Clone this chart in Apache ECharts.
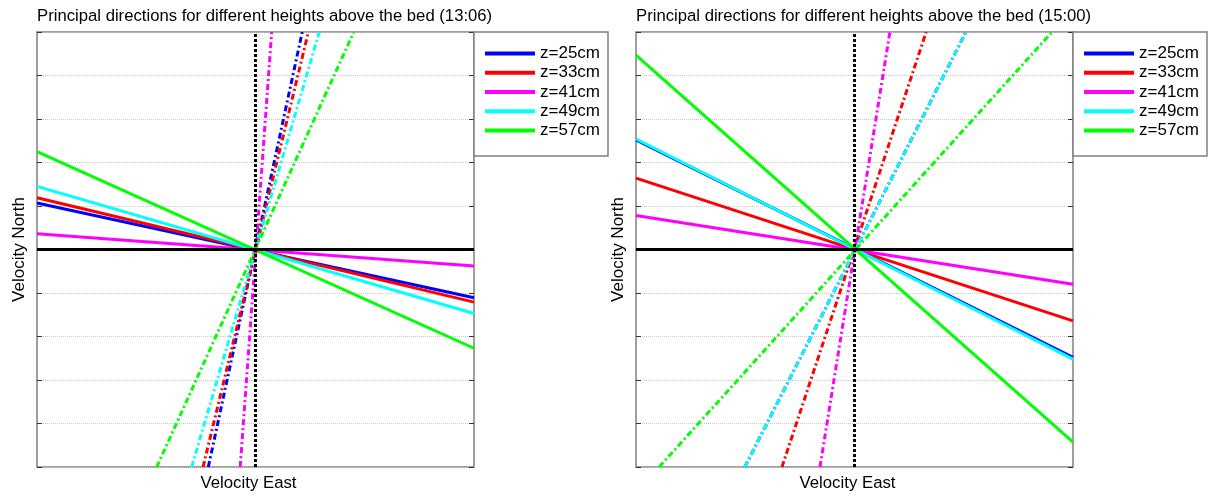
<!DOCTYPE html>
<html>
<head>
<meta charset="utf-8">
<script src="https://cdn.jsdelivr.net/npm/echarts@6/dist/echarts.min.js"></script>
<style>
  html, body { margin: 0; padding: 0; background: #fff; }
  #chart { width: 1208px; height: 497px; }
</style>
</head>
<body>
<div id="chart"></div>
<script>
// Heights above the bed and their line colours
const heights = ['z=25cm', 'z=33cm', 'z=41cm', 'z=49cm', 'z=57cm'];
const colors = ['#0000ff', '#ff0000', '#ff00ff', '#00ffff', '#00ff00'];

// Panel titles
const titles = [
  'Principal directions for different heights above the bed (13:06)',
  'Principal directions for different heights above the bed (15:00)'
];

// Axis extent (velocity units, both axes)
const axisMin = -5;
const axisMax = 5;
const yTickInterval = 1;

// 13:06 — major axis: north velocity at the west / east edges
const majorWest1306 = [1.07, 1.19, 0.36, 1.45, 2.25];
const majorEast1306 = [-1.11, -1.21, -0.38, -1.47, -2.27];
// 13:06 — minor axis: east velocity at the south / north edges
const minorSouth1306 = [-1.08, -1.20, -0.35, -1.46, -2.26];
const minorNorth1306 = [1.07, 1.21, 0.37, 1.46, 2.25];

// 15:00 — major axis
const majorWest1500 = [2.52, 1.64, 0.78, 2.54, 4.47];
const majorEast1500 = [-2.48, -1.64, -0.80, -2.52, -4.43];
// 15:00 — minor axis
const minorSouth1500 = [-2.51, -1.66, -0.79, -2.51, -4.47];
const minorNorth1500 = [2.55, 1.64, 0.81, 2.55, 4.52];

const panels = [
  { left: 37, majorWest: majorWest1306, majorEast: majorEast1306, minorSouth: minorSouth1306, minorNorth: minorNorth1306 },
  { left: 636, majorWest: majorWest1500, majorEast: majorEast1500, minorSouth: minorSouth1500, minorNorth: minorNorth1500 }
];

const FONT = 'Liberation Sans, Arial, Helvetica, sans-serif';
const gridTop = 32, gridW = 437, gridH = 436;

const grid = [], xAxis = [], yAxis = [], series = [], title = [], legend = [];

panels.forEach((p, gi) => {
  grid.push({
    left: p.left, top: gridTop, width: gridW, height: gridH,
    show: true, borderColor: '#808080', borderWidth: 1.5, backgroundColor: '#fff'
  });
  title.push({
    text: titles[gi], left: p.left - 5, top: 3,
    textStyle: { fontFamily: FONT, fontSize: 16.7, fontWeight: 'normal', color: '#000' }
  });
  xAxis.push({
    gridIndex: gi, type: 'value', min: axisMin, max: axisMax,
    name: 'Velocity East', nameLocation: 'middle', nameGap: 8,
    nameTextStyle: { fontFamily: FONT, fontSize: 16.8, color: '#000', padding: [0, 14, 0, 0] },
    axisLine: { show: false, onZero: false }, axisTick: { show: false }, axisLabel: { show: false },
    splitLine: { show: false }
  });
  yAxis.push({
    gridIndex: gi, type: 'value', min: axisMin, max: axisMax, interval: yTickInterval,
    name: 'Velocity North', nameLocation: 'middle', nameGap: 9,
    nameTextStyle: { fontFamily: FONT, fontSize: 17, color: '#000' },
    axisLine: { show: false, onZero: false },
    axisTick: { show: true, inside: true, length: 5, lineStyle: { color: '#333', width: 1 } },
    axisLabel: { show: false },
    splitLine: { show: true, lineStyle: { color: '#c8c8c8', type: [1, 1], width: 1 } }
  });
  yAxis.push({
    gridIndex: gi, type: 'value', position: 'right', min: axisMin, max: axisMax, interval: yTickInterval,
    axisLine: { show: false, onZero: false },
    axisTick: { show: true, inside: true, length: 5, lineStyle: { color: '#333', width: 1 } },
    axisLabel: { show: false }, splitLine: { show: false }
  });

  heights.forEach((h, i) => {
    series.push({
      type: 'line', name: h, xAxisIndex: gi, yAxisIndex: gi * 2,
      data: [[axisMin, p.majorWest[i]], [axisMax, p.majorEast[i]]],
      symbol: 'none', silent: true, animation: false,
      lineStyle: { color: colors[i], width: 3 }, itemStyle: { color: colors[i] }, z: 3
    });
    series.push({
      type: 'line', name: h + ' minor', xAxisIndex: gi, yAxisIndex: gi * 2,
      data: [[p.minorSouth[i], axisMin], [p.minorNorth[i], axisMax]],
      symbol: 'none', silent: true, animation: false,
      lineStyle: { color: colors[i], width: 3, type: [6, 3, 2, 3] }, z: 3
    });
  });

  // reference axes through the origin
  series.push({
    type: 'line', name: 'east axis', xAxisIndex: gi, yAxisIndex: gi * 2,
    data: [[axisMin, 0], [axisMax, 0]], symbol: 'none', silent: true, animation: false,
    lineStyle: { color: '#000', width: 3 }, z: 4
  });
  series.push({
    type: 'line', name: 'north axis', xAxisIndex: gi, yAxisIndex: gi * 2,
    data: [[0, axisMin], [0, axisMax]], symbol: 'none', silent: true, animation: false,
    lineStyle: { color: '#000', width: 3, type: [3, 2] }, z: 4
  });

  legend.push({
    data: heights, orient: 'vertical',
    left: p.left + gridW, top: gridTop,
    padding: [12, 8, 16, 11],
    icon: 'rect', itemWidth: 50, itemHeight: 4, itemGap: 0,
    borderColor: '#808080', borderWidth: 1.5, backgroundColor: '#fff',
    selectedMode: false,
    textStyle: { fontFamily: FONT, fontSize: 17, color: '#000', lineHeight: 19.2 }
  });
});

const chart = echarts.init(document.getElementById('chart'), null, { renderer: 'canvas' });
chart.setOption({
  backgroundColor: '#fff',
  animation: false,
  title, grid, xAxis, yAxis, series, legend
});
</script>
</body>
</html>
